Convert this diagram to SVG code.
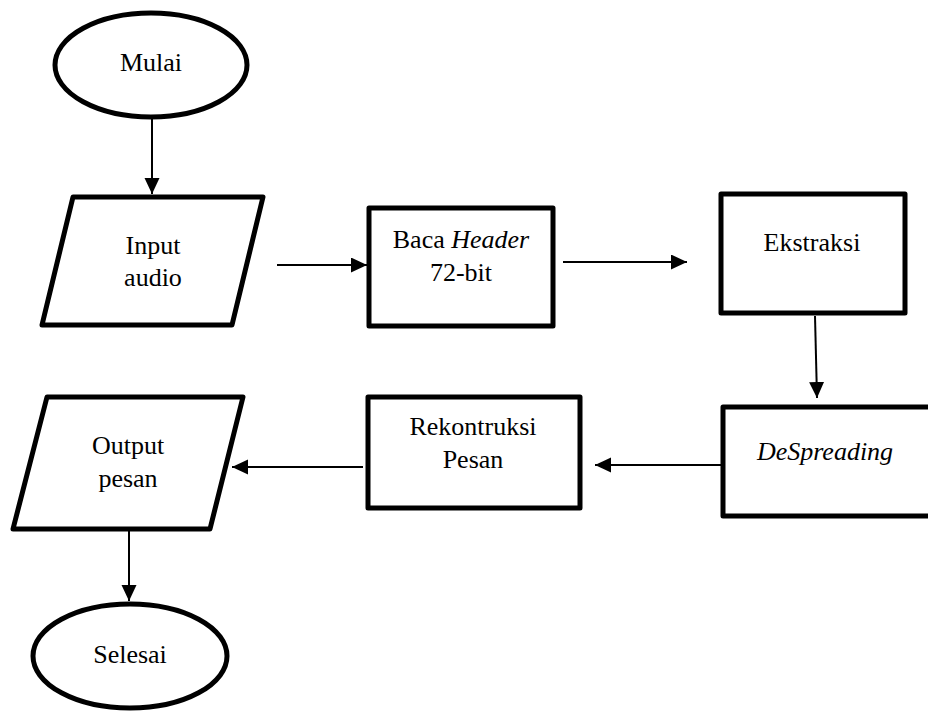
<svg xmlns="http://www.w3.org/2000/svg" width="928" height="711" viewBox="0 0 928 711">
<style>
.shape{fill:#fff;stroke:#000;stroke-width:5;stroke-linejoin:round}
.t{font-family:'Liberation Serif','DejaVu Serif','Times New Roman',serif;font-size:26px;fill:#000;text-anchor:middle}
.i{font-style:italic}
.c{stroke:#000;stroke-width:2;fill:none;marker-end:url(#ah)}
</style>
<defs>
<marker id="ah" markerUnits="userSpaceOnUse" markerWidth="18" markerHeight="16" refX="16" refY="7.5" orient="auto">
<path d="M0,0 L16,7.5 L0,15 Z" fill="#000"/>
</marker>
</defs>
<rect width="928" height="711" fill="#fff"/>
<g id="mulai">
<ellipse class="shape" cx="151" cy="65" rx="96" ry="52"/>
<text class="t" font-family="Liberation Serif, serif" x="151" y="71">Mulai</text>
</g>
<g id="input">
<polygon class="shape" points="73,197 263,197 232,325 42,325"/>
<text class="t" font-family="Liberation Serif, serif" x="153" y="254">Input</text>
<text class="t" font-family="Liberation Serif, serif" x="153" y="286">audio</text>
</g>
<g id="baca">
<rect class="shape" x="369" y="208" width="184" height="118"/>
<text class="t" font-family="Liberation Serif, serif" x="461" y="248">Baca <tspan class="i">Header</tspan></text>
<text class="t" font-family="Liberation Serif, serif" x="461" y="281">72-bit</text>
</g>
<g id="ekstraksi">
<rect class="shape" x="721" y="194" width="184" height="119"/>
<text class="t" font-family="Liberation Serif, serif" x="812" y="251">Ekstraksi</text>
</g>
<g id="despreading">
<rect class="shape" x="723" y="407" width="215" height="109"/>
<text class="t i" font-family="Liberation Serif, serif" x="825" y="460">DeSpreading</text>
</g>
<g id="rekontruksi">
<rect class="shape" x="368" y="397" width="212" height="111"/>
<text class="t" font-family="Liberation Serif, serif" x="473" y="435">Rekontruksi</text>
<text class="t" font-family="Liberation Serif, serif" x="473" y="468">Pesan</text>
</g>
<g id="output">
<polygon class="shape" points="47,397 243,397 210,529 13,529"/>
<text class="t" font-family="Liberation Serif, serif" x="128" y="454">Output</text>
<text class="t" font-family="Liberation Serif, serif" x="128" y="487">pesan</text>
</g>
<g id="selesai">
<ellipse class="shape" cx="130" cy="656" rx="97" ry="52"/>
<text class="t" font-family="Liberation Serif, serif" x="130" y="663">Selesai</text>
</g>
<g id="connectors">
<line class="c" x1="152" y1="119" x2="152" y2="194"/>
<line class="c" x1="277" y1="265" x2="367" y2="265"/>
<line class="c" x1="563" y1="262" x2="687" y2="262"/>
<line class="c" x1="815" y1="316" x2="817" y2="398"/>
<line class="c" x1="723" y1="465" x2="595" y2="465"/>
<line class="c" x1="363" y1="467" x2="232" y2="467"/>
<line class="c" x1="129" y1="531" x2="129" y2="601"/>
</g>
</svg>
